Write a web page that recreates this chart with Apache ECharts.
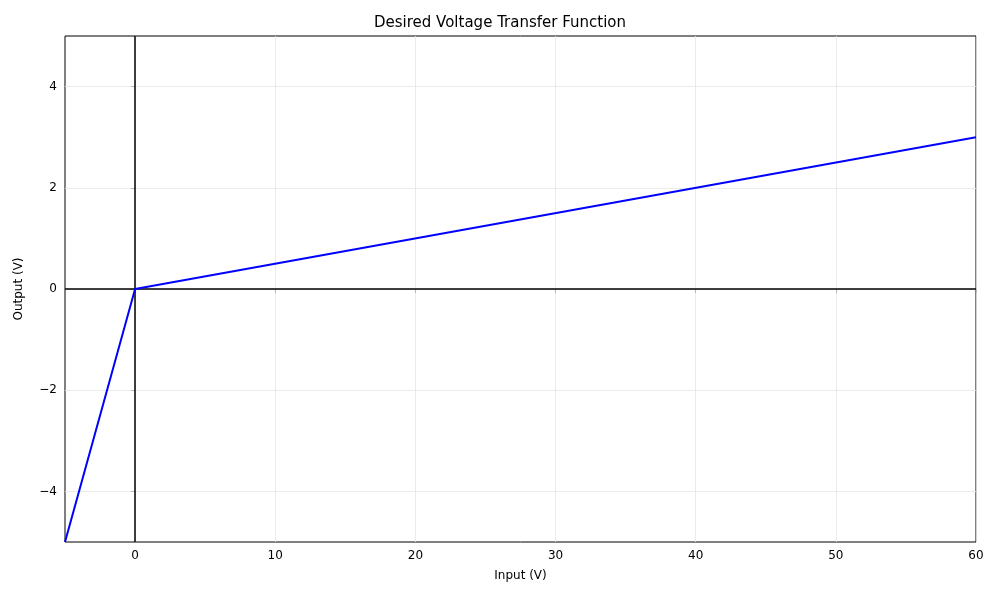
<!DOCTYPE html>
<html><head><meta charset="utf-8">
<script src="https://cdn.jsdelivr.net/npm/echarts@6/dist/echarts.min.js"></script>
<style>body{margin:0}#c{width:1000px;height:600px}</style></head>
<body><div id="c"></div>
<script>
const inputV = [-5, 0, 60];
const outputV = [-5, 0, 3];
const xTicks = [0, 10, 20, 30, 40, 50, 60];
const yTicks = [-4, -2, 0, 2, 4];
const fmt = v => (v < 0 ? '\u2212' + Math.abs(v) : String(v));
const gridLines = xTicks.map(v => ({xAxis: v})).concat(yTicks.map(v => ({yAxis: v})));
const chart = echarts.init(document.getElementById('c'));
const font = {fontFamily: 'DejaVu Sans', color: '#000', fontSize: 12};
chart.setOption({
  animation: false,
  title: {text: 'Desired Voltage Transfer Function', left: 'center', top: 11,
    textStyle: {fontFamily: 'DejaVu Sans', fontWeight: 'normal', fontSize: 15, color: '#000'}},
  grid: {left: 65, right: 24, top: 36, bottom: 58, show: true, borderColor: '#000', borderWidth: 1},
  xAxis: {type: 'value', min: -5, max: 60, name: 'Input (V)', nameLocation: 'middle', nameGap: 28,
    nameTextStyle: font, splitLine: {show: false},
    axisLine: {show: false},
    axisTick: {show: true, customValues: xTicks, length: 4, lineStyle: {color: '#000'}},
    axisLabel: Object.assign({customValues: xTicks, formatter: fmt, margin: 8}, font)},
  yAxis: {type: 'value', min: -5, max: 5, name: 'Output (V)', nameLocation: 'middle', nameGap: 40,
    nameTextStyle: font, splitLine: {show: false},
    axisLine: {show: false},
    axisTick: {show: true, customValues: yTicks, length: 4, lineStyle: {color: '#000'}},
    axisLabel: Object.assign({customValues: yTicks, formatter: fmt, margin: 8}, font)},
  series: [
    {type: 'line', data: [], silent: true,
      markLine: {symbol: 'none', silent: true, label: {show: false},
        lineStyle: {color: '#e6e6e6', width: 0.8, type: 'solid'}, data: gridLines}},
    {type: 'line', data: [], silent: true,
      markLine: {symbol: 'none', silent: true, label: {show: false},
        lineStyle: {color: '#000', width: 1.5, type: 'solid'}, data: [{xAxis: 0}, {yAxis: 0}]}},
    {type: 'line', data: inputV.map((x, i) => [x, outputV[i]]), showSymbol: false,
      lineStyle: {color: '#0000ff', width: 2}, z: 5}
  ]
});
</script></body></html>
